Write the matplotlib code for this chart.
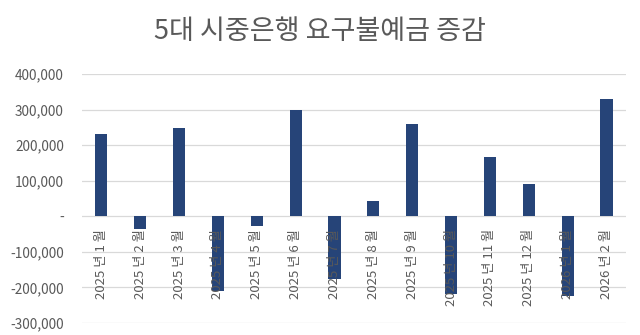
import matplotlib
matplotlib.use("Agg")
import matplotlib.pyplot as plt
from matplotlib.ticker import FuncFormatter

plt.rcParams['font.family'] = ['Noto Sans CJK KR', 'DejaVu Sans']

title = "5대 시중은행 요구불예금 증감"
months = ["2025 년 1 월", "2025 년 2 월", "2025 년 3 월", "2025 년 4 월",
          "2025 년 5 월", "2025 년 6 월", "2025 년 7 월", "2025 년 8 월",
          "2025 년 9 월", "2025 년 10 월", "2025 년 11 월", "2025 년 12 월",
          "2026 년 1 월", "2026 년 2 월"]
changes = [230000, -35000, 248000, -209000, -27000, 299000, -176000,
           44000, 260000, -220000, 166000, 92000, -225000, 331000]
y_ticks = [-300000, -200000, -100000, 0, 100000, 200000, 300000, 400000]

bar_color = "#264478"
text_color = "#595959"
grid_color = "#D9D9D9"


def fmt_thousands(v, pos):
    # accounting style: zero shown as a dash
    if v == 0:
        return "-"
    return f"{v:,.0f}"


fig = plt.figure(figsize=(6.4, 3.35), dpi=100)
ax = fig.add_axes([0.128, 0.036, 0.850, 0.743])

x = list(range(len(months)))
ax.bar(x, changes, width=0.31, color=bar_color, zorder=2)

ax.set_xlim(-0.5, len(months) - 0.5)
ax.set_ylim(y_ticks[0], y_ticks[-1])
ax.set_yticks(y_ticks)
ax.yaxis.set_major_formatter(FuncFormatter(fmt_thousands))
ax.grid(axis="y", color=grid_color, linewidth=0.9, zorder=0)
ax.set_axisbelow(True)

for side in ["top", "right", "left", "bottom"]:
    ax.spines[side].set_visible(False)

ax.tick_params(axis="y", length=0, pad=13, labelsize=9.8, labelcolor=text_color)
ax.set_xticks([])

# category labels hang from the zero line, drawn over the bars
for i, label in enumerate(months):
    ax.annotate(label, xy=(i, 0), xytext=(0, -9), textcoords="offset points",
                rotation=90, ha="center", va="top", fontsize=9.5,
                color=text_color, zorder=5)

fig.text(0.5, 0.905, title, ha="center", va="center", fontsize=19.5,
         color=text_color)

fig.savefig("out.png", dpi=100)
